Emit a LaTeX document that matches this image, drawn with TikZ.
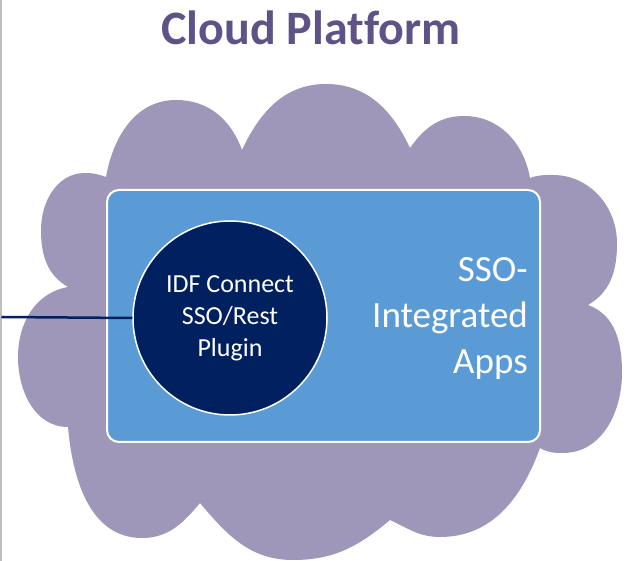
\documentclass[tikz,border=0pt]{standalone}
\usepackage{fontspec}
\setmainfont{Carlito}[Ligatures=NoCommon]

\definecolor{cloudfill}{HTML}{9F97BA}
\definecolor{appblue}{HTML}{5B9BD5}
\definecolor{navy}{HTML}{002060}
\definecolor{titlepurple}{HTML}{5F5287}
\definecolor{edgegray}{HTML}{BFBDB7}

\begin{document}
\begin{tikzpicture}[x=1pt, y=1pt,
    appbox/.style={draw=white, line width=2pt, fill=appblue, rounded corners=12pt,
      minimum width=433pt, minimum height=252pt, inner sep=0pt},
    pluginnode/.style={circle, draw=white, line width=1.5pt, fill=navy,
      minimum size=194pt, inner sep=0pt, text=white, align=center,
      font=\fontsize{26}{32}\selectfont},
    appslabel/.style={text=white, align=right, inner sep=0pt,
      font=\fontsize{37}{46}\selectfont}]
  \useasboundingbox (0,0) rectangle (628,561);
  \draw[edgegray, line width=1.5pt] (0.75,0) -- (0.75,561);

  \node[titlepurple, font=\fontsize{48}{56}\selectfont\bfseries, anchor=base]
    (title) at (311,516) {Cloud Platform};

  % cloud
  \fill[cloudfill] (106,384)
    to[out=80,in=180] (176,461) to[out=0,in=110] (242,411)
    to[out=65,in=180] (326,477) to[out=0,in=115] (410,413)
    to[out=55,in=180] (464,445) to[out=0,in=100] (530,383)
    to[out=20,in=180] (553,386) to[out=0,in=90] (617,318) to[out=-90,in=30] (588,256)
    to[out=-20,in=90] (622,188) to[out=-90,in=0] (563,108) to[out=180,in=-30] (540,113)
    to[out=-110,in=0] (440,24) to[out=180,in=-25] (390,41)
    to[out=-140,in=0] (293,1) to[out=180,in=-50] (200,58)
    to[out=-130,in=0] (142,23) to[out=180,in=-85] (68,134)
    to[out=180,in=-90] (18,204) to[out=90,in=-170] (68,274)
    to[out=150,in=-90] (41,331) to[out=90,in=180] (85,388) to[out=0,in=160] cycle;

  \node[appbox] (apps) at (323.5,245) {};
  \node[pluginnode] (plugin) at (230,243) {IDF Connect\\SSO/Rest\\Plugin};
  \node[appslabel, anchor=east] (appstext) at (528,243) {SSO-\\Integrated\\Apps};

  \coordinate (feed) at (1.5,244);
  \draw[navy, line width=2.5pt] (feed) -- (plugin.west);
\end{tikzpicture}
\end{document}
